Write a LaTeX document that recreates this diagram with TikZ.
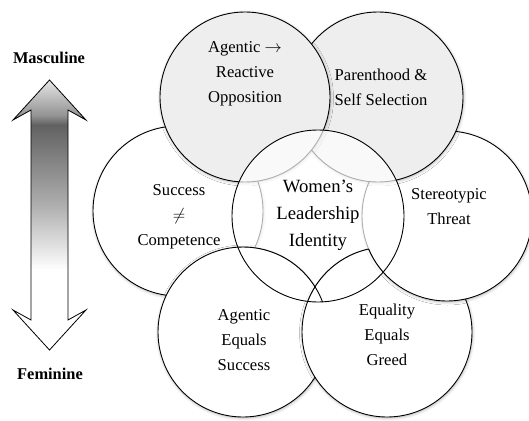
\documentclass[tikz,border=0pt]{standalone}
\usepackage{fontspec}
\setmainfont{Liberation Serif}
\usetikzlibrary{shadows.blur}
\definecolor{gfill}{RGB}{238,238,238}
\pgfdeclareverticalshading{arrowshade}{100bp}{color(0bp)=(white); color(25bp)=(white); color(39.8bp)=(white); color(52bp)=(black!32); color(66.7bp)=(black!62); color(68.5bp)=(black!42); color(75bp)=(black!10); color(100bp)=(black!10)}
\begin{document}
\begin{tikzpicture}[x=1pt,y=-1pt,
  circ/.style={draw=black, line width=0.9pt, blur shadow={shadow xshift=0.5pt, shadow yshift=-1pt, shadow blur radius=3pt, shadow blur steps=6, shadow opacity=30}},
  lbl/.style={align=center, font=\fontsize{16.6}{25}\selectfont, inner sep=0pt},
  biglbl/.style={align=center, font=\fontsize{18.7}{27}\selectfont, inner sep=0pt},
  sidelbl/.style={font=\fontsize{16.4}{18}\selectfont\bfseries, inner sep=0pt}]
\useasboundingbox (0,0) rectangle (529,420);
% circle centres
\coordinate (cS)  at (178,211);
\coordinate (cAE) at (243,332);
\coordinate (cEQ) at (387,332);
\coordinate (cST) at (447,216);
\coordinate (cPA) at (378,97);
\coordinate (cAG) at (245,97);
\coordinate (cC)  at (318,216);
% outer circles, drawn in overlap order
\path[circ, fill=white] (cS)  circle[radius=85pt];
\path[circ, fill=white] (cAE) circle[radius=85pt];
\path[circ, fill=white] (cEQ) circle[radius=85pt];
\path[circ, fill=white] (cST) circle[radius=85pt];
\path[circ, fill=gfill] (cPA) circle[radius=85pt];
\path[circ, fill=gfill] (cAG) circle[radius=85pt];
% centre circle, semi-transparent
\path[draw=black, line width=0.9pt, fill=white, fill opacity=0.68] (cC) circle[radius=86pt];
\begin{scope}
  \clip (cC) circle[radius=86pt];
  \draw[line width=0.9pt] (cAE) circle[radius=85pt];
  \begin{scope}[even odd rule]
    \clip (0,0) rectangle (529,420) (cST) circle[radius=85pt];
    \draw[line width=0.9pt] (cEQ) circle[radius=85pt];
  \end{scope}
  \begin{scope}
    \clip (cEQ) circle[radius=85pt];
    \draw[line width=0.9pt] (cST) circle[radius=85pt];
  \end{scope}
\end{scope}
% labels
\node[lbl] (tAG) at (245,74) {Agentic $\rightarrow$\\Reactive\\Opposition};
\node[lbl] (tPA) at (381,87) {Parenthood \&\\Self Selection};
\node[lbl] (tS)  at (179,217) {Success\\$\neq$\\Competence};
\node[lbl] (tST) at (449,207) {Stereotypic\\Threat};
\node[lbl] (tAE) at (244,340) {Agentic\\Equals\\Success};
\node[lbl] (tEQ) at (387,335) {Equality\\Equals\\Greed};
\node[biglbl] (tC) at (318,215) {Women's\\Leadership\\Identity};
% left scale arrow
\node[sidelbl] (masc) at (49,58) {Masculine};
\node[sidelbl] (fem)  at (50,374) {Feminine};
\path[draw=black, line width=0.8pt, shading=arrowshade]
  (49.5,80) -- (86,120) -- (68,110) -- (68,320) -- (86,310) -- (49.5,350)
  -- (13,310) -- (31,320) -- (31,110) -- (13,120) -- cycle;
\end{tikzpicture}
\end{document}
